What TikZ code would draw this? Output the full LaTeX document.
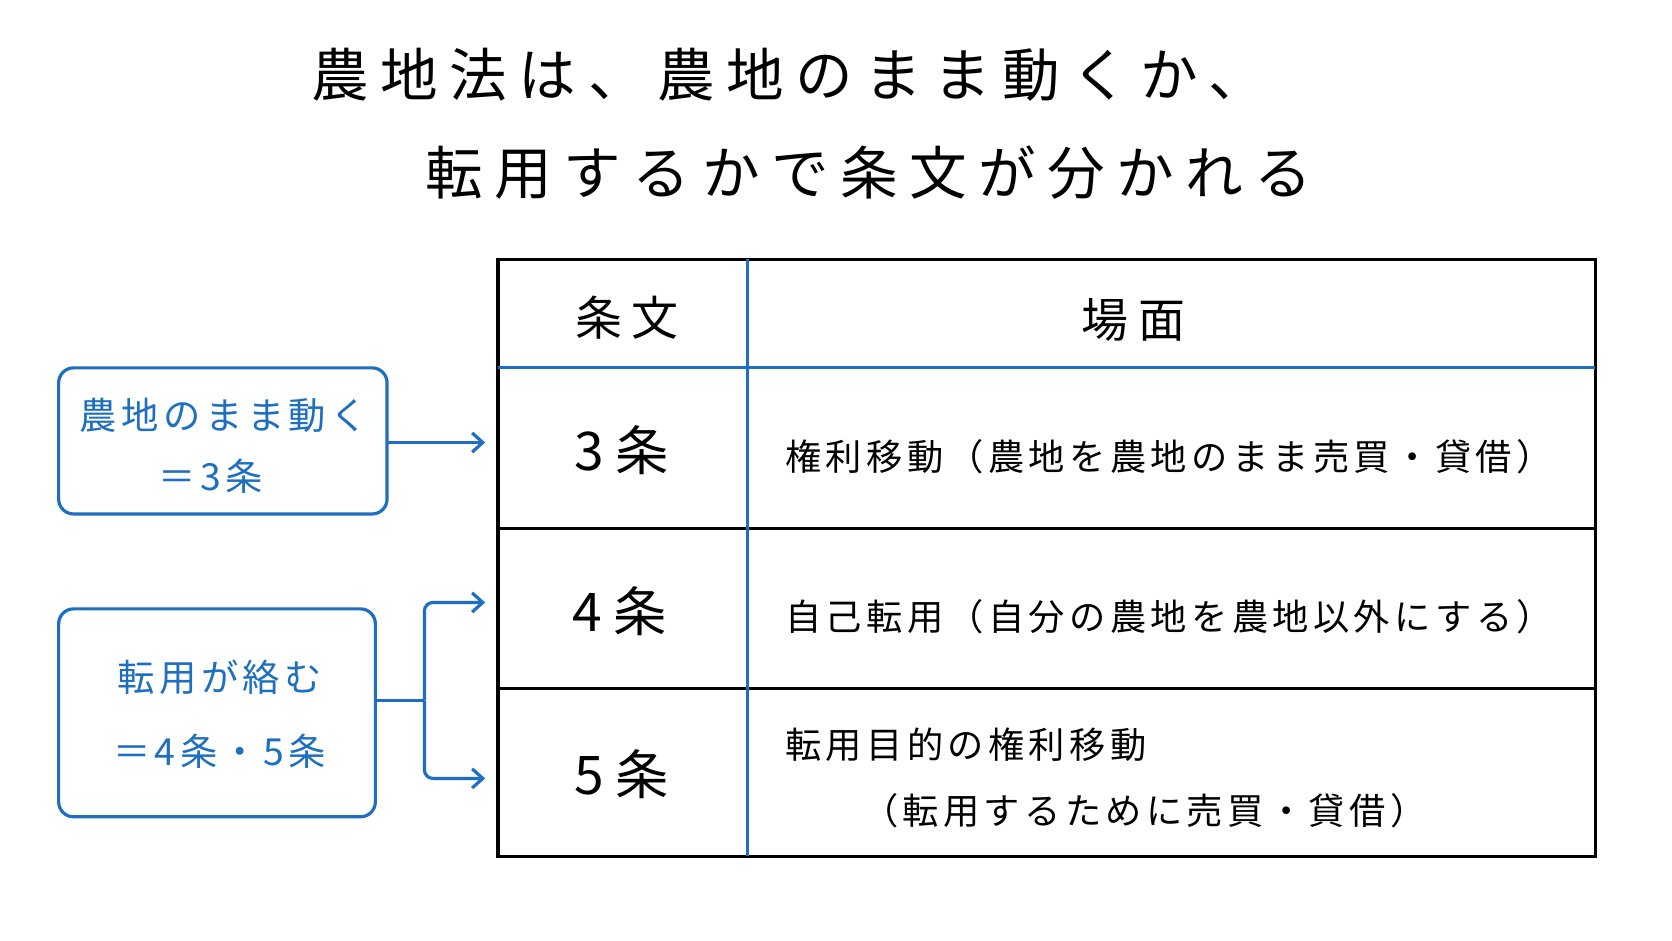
\documentclass[tikz,border=0pt]{standalone}
\usepackage{fontspec}
\setmainfont{Noto Sans CJK JP}
\newfontfamily\spA{Noto Sans CJK JP}[LetterSpace=20]
\newfontfamily\spB{Noto Sans CJK JP}[LetterSpace=12]
\usetikzlibrary{arrows.meta}
\definecolor{bl}{HTML}{1F6FC0}
\begin{document}
\begin{tikzpicture}[x=1pt,y=-1pt,
 tl/.style={line width=3pt,black},
 bline/.style={line width=3pt,bl},
 box/.style={draw=bl,line width=3pt,rounded corners=14pt},
 arr/.style={bl,line width=3pt,-{Straight Barb[length=10pt,width=18pt]}},
 big/.style={font=\spA\fontsize{54}{60}\selectfont},
 hd/.style={font=\spA\fontsize{44}{48}\selectfont},
 num/.style={font=\spA\fontsize{50}{54}\selectfont},
 sc/.style={font=\spB\fontsize{34}{40}\selectfont,anchor=west},
 bt/.style={font=\spB\fontsize{35}{44}\selectfont,text=bl}]
\useasboundingbox (0,0) rectangle (1568,882);
\fill[white] (0,0) rectangle (1568,882);
\node[big] (t1) at (740,70) {農地法は、農地のまま動くか、};
\node[big] (t2) at (815,162) {転用するかで条文が分かれる};
% table
\draw[tl] (467,243) rectangle (1496,803);
\draw[tl] (467,496) -- (1496,496);
\draw[tl] (467,646) -- (1496,646);
\draw[bline] (467,345) -- (1496,345);
\draw[bline] (701,243) -- (701,803);
\node[hd] (h1) at (588,298) {条文};
\node[hd] (h2) at (1063,300) {場面};
\node[num] (a3) at (583,422) {3条};
\node[num] (a4) at (581,573) {4条};
\node[num] (a5) at (583,726) {5条};
\node[sc] (s3) at (733,428) {権利移動（農地を農地のまま売買・貸借）};
\node[sc] (s4) at (733,578) {自己転用（自分の農地を農地以外にする）};
\node[sc] (s5a) at (733,698) {転用目的の権利移動};
\node[sc] (s5b) at (805,760) {（転用するために売買・貸借）};
% left boxes
\draw[box] (55,345) rectangle (363,482);
\node[bt] (b1a) at (210,390) {農地のまま動く};
\node[bt] (b1b) at (198,447) {＝3条};
\draw[box] (55,571) rectangle (352,766);
\node[bt] (b2a) at (206,635) {転用が絡む};
\node[bt] (b2b) at (206,705) {＝4条・5条};
\coordinate (p1) at (363,415);
\coordinate (q1) at (455,415);
\draw[arr] (p1) -- (q1);
\coordinate (p2) at (352,657);
\coordinate (j) at (398,657);
\coordinate (ja) at (398,565);
\coordinate (jb) at (398,730);
\coordinate (e4) at (455,565);
\coordinate (e5) at (455,730);
\draw[bl,line width=3pt] (p2) -- (j);
\draw[arr,rounded corners=8pt] (j) -- (ja) -- (e4);
\draw[arr,rounded corners=8pt] (j) -- (jb) -- (e5);
\end{tikzpicture}
\end{document}
